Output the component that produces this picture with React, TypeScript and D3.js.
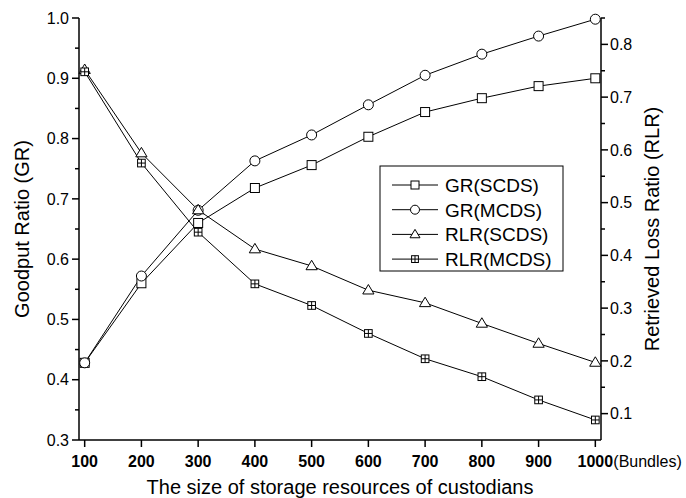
import React, { useEffect, useRef } from 'react';
import * as d3 from 'd3';

// x values (Bundles)
const bundles = [100, 200, 300, 400, 500, 600, 700, 800, 900, 1000];

// left axis series (Goodput Ratio)
const grSCDS = [0.428, 0.56, 0.66, 0.718, 0.756, 0.803, 0.844, 0.867, 0.887, 0.9];
const grMCDS = [0.428, 0.572, 0.681, 0.763, 0.806, 0.856, 0.905, 0.94, 0.97, 0.998];

// right axis series (Retrieved Loss Ratio)
const rlrSCDS = [0.752, 0.594, 0.486, 0.412, 0.38, 0.334, 0.31, 0.271, 0.233, 0.197];
const rlrMCDS = [0.748, 0.575, 0.444, 0.346, 0.305, 0.252, 0.204, 0.17, 0.126, 0.088];

const leftTicks = [0.3, 0.4, 0.5, 0.6, 0.7, 0.8, 0.9, 1.0];
const rightTicks = [0.1, 0.2, 0.3, 0.4, 0.5, 0.6, 0.7, 0.8];

const legendNames = ['GR(SCDS)', 'GR(MCDS)', 'RLR(SCDS)', 'RLR(MCDS)'];

const App = () => {
  const ref = useRef<SVGSVGElement>(null);

  useEffect(() => {
    const svg = d3.select(ref.current);
    svg.selectAll('*').remove();

    const left = 79;
    const right = 601;
    const top = 18;
    const bottom = 440;
    const font = 'Arial, "Liberation Sans", sans-serif';

    const x = d3.scaleLinear().domain([90, 1010]).range([left, right]);
    const yL = d3.scaleLinear().domain([0.3, 1.0]).range([bottom, top]);
    const yR = d3.scaleLinear().domain([0.05, 0.85]).range([bottom, top]);

    // axes lines
    const axes = svg.append('g').attr('stroke', '#000').attr('stroke-width', 1.5);
    axes.append('line').attr('x1', left).attr('x2', left).attr('y1', top).attr('y2', bottom);
    axes.append('line').attr('x1', right).attr('x2', right).attr('y1', top).attr('y2', bottom);
    axes.append('line').attr('x1', left).attr('x2', right).attr('y1', bottom).attr('y2', bottom);

    // left ticks
    const leftMinor = d3.range(0.35, 1.0, 0.1);
    leftTicks.forEach((v) => {
      axes.append('line').attr('x1', left - 7).attr('x2', left).attr('y1', yL(v)).attr('y2', yL(v));
    });
    leftMinor.forEach((v) => {
      axes.append('line').attr('x1', left - 4).attr('x2', left).attr('y1', yL(v)).attr('y2', yL(v));
    });
    svg
      .append('g')
      .selectAll('text')
      .data(leftTicks)
      .enter()
      .append('text')
      .attr('x', left - 10)
      .attr('y', (d) => yL(d))
      .attr('dy', '0.36em')
      .attr('text-anchor', 'end')
      .attr('font-family', font)
      .attr('font-size', 16)
      .text((d) => d.toFixed(1));

    // right ticks
    const rightMinor = d3.range(0.15, 0.86, 0.1);
    rightTicks.forEach((v) => {
      axes.append('line').attr('x1', right).attr('x2', right + 7).attr('y1', yR(v)).attr('y2', yR(v));
    });
    rightMinor.forEach((v) => {
      axes.append('line').attr('x1', right).attr('x2', right + 4).attr('y1', yR(v)).attr('y2', yR(v));
    });
    svg
      .append('g')
      .selectAll('text')
      .data(rightTicks)
      .enter()
      .append('text')
      .attr('x', right + 9)
      .attr('y', (d) => yR(d))
      .attr('dy', '0.36em')
      .attr('font-family', font)
      .attr('font-size', 16)
      .text((d) => d.toFixed(1));

    // x ticks
    bundles.forEach((v) => {
      axes.append('line').attr('x1', x(v)).attr('x2', x(v)).attr('y1', bottom).attr('y2', bottom + 7);
    });
    svg
      .append('g')
      .selectAll('text')
      .data(bundles)
      .enter()
      .append('text')
      .attr('x', (d) => x(d))
      .attr('y', 467)
      .attr('text-anchor', 'middle')
      .attr('font-family', font)
      .attr('font-size', 16)
      .attr('font-weight', 'bold')
      .text((d) => d);
    svg
      .append('text')
      .attr('x', x(1000) + 18)
      .attr('y', 467)
      .attr('font-family', font)
      .attr('font-size', 16)
      .text('(Bundles)');

    // axis titles
    svg
      .append('text')
      .attr('x', (left + right) / 2)
      .attr('y', 494)
      .attr('text-anchor', 'middle')
      .attr('font-family', font)
      .attr('font-size', 20)
      .text('The size of storage resources of custodians');
    svg
      .append('text')
      .attr('transform', `translate(29,${(top + bottom) / 2}) rotate(-90)`)
      .attr('text-anchor', 'middle')
      .attr('font-family', font)
      .attr('font-size', 20)
      .text('Goodput Ratio (GR)');
    svg
      .append('text')
      .attr('transform', `translate(659,${(top + bottom) / 2}) rotate(-90)`)
      .attr('text-anchor', 'middle')
      .attr('font-family', font)
      .attr('font-size', 20)
      .text('Retrieved Loss Ratio (RLR)');

    // marker drawing
    const drawMarker = (g: any, kind: string, cx: number, cy: number, s: number) => {
      const m = g.append('g').attr('fill', '#fff').attr('stroke', '#000').attr('stroke-width', 1);
      if (kind === 'square') {
        m.append('rect').attr('x', cx - s / 2).attr('y', cy - s / 2).attr('width', s).attr('height', s);
      } else if (kind === 'circle') {
        m.append('circle').attr('cx', cx).attr('cy', cy).attr('r', s / 2 + 0.5);
      } else if (kind === 'triangle') {
        const w = s * 1.25;
        const h = s * 1.05;
        m.append('path').attr(
          'd',
          `M${cx},${cy - h * 0.6}L${cx + w / 2},${cy + h * 0.4}L${cx - w / 2},${cy + h * 0.4}Z`
        );
      } else {
        const q = s * 0.85;
        m.append('rect').attr('x', cx - q / 2).attr('y', cy - q / 2).attr('width', q).attr('height', q);
        m.append('line').attr('x1', cx).attr('x2', cx).attr('y1', cy - q / 2).attr('y2', cy + q / 2);
        m.append('line').attr('x1', cx - q / 2).attr('x2', cx + q / 2).attr('y1', cy).attr('y2', cy);
      }
    };

    const series = [
      { values: grSCDS, y: yL, kind: 'square' },
      { values: grMCDS, y: yL, kind: 'circle' },
      { values: rlrSCDS, y: yR, kind: 'triangle' },
      { values: rlrMCDS, y: yR, kind: 'squareplus' },
    ];

    const plot = svg.append('g');
    series.forEach((s) => {
      const line = d3
        .line<number>()
        .x((_, i) => x(bundles[i]))
        .y((d) => s.y(d));
      plot
        .append('path')
        .attr('d', line(s.values))
        .attr('fill', 'none')
        .attr('stroke', '#000')
        .attr('stroke-width', 1);
    });
    series.forEach((s) => {
      s.values.forEach((v, i) => drawMarker(plot, s.kind, x(bundles[i]), s.y(v), 9));
    });

    // legend
    const lg = svg.append('g');
    lg.append('rect')
      .attr('x', 380)
      .attr('y', 166)
      .attr('width', 183)
      .attr('height', 105)
      .attr('fill', '#fff')
      .attr('stroke', '#000')
      .attr('stroke-width', 1);
    legendNames.forEach((name, i) => {
      const cy = 185 + i * 24.7;
      lg.append('line')
        .attr('x1', 392)
        .attr('x2', 438)
        .attr('y1', cy)
        .attr('y2', cy)
        .attr('stroke', '#000')
        .attr('stroke-width', 1);
      drawMarker(lg, series[i].kind, 415, cy, 8);
      lg.append('text')
        .attr('x', 445)
        .attr('y', cy)
        .attr('dy', '0.36em')
        .attr('font-family', font)
        .attr('font-size', 19)
        .text(name);
    });
  }, []);

  return (
    <svg
      ref={ref}
      width={686}
      height={498}
      style={{ position: 'absolute', left: 0, top: 0, background: '#fff' }}
    />
  );
};

export default App;
